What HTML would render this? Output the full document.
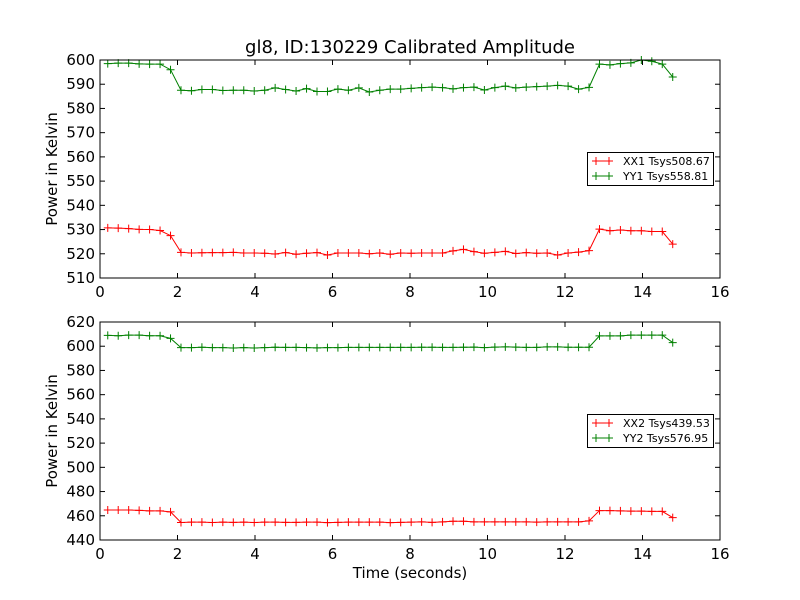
<!DOCTYPE html>
<html><head><meta charset="utf-8"><style>
body{margin:0;background:#fff;}
svg{display:block;font-family:"DejaVu Sans","Liberation Sans",sans-serif;}
</style></head><body>
<svg id="chart" width="800" height="600" xmlns="http://www.w3.org/2000/svg">
<rect width="800" height="600" fill="#fff"/>
<text x="410" y="53" font-size="18" text-anchor="middle">gl8, ID:130229 Calibrated Amplitude</text>
<text x="410" y="578" font-size="15" text-anchor="middle">Time (seconds)</text>
<g id="p1"></g>
<g id="p2"></g>
</svg>
<script>
const times=[0.2,0.47,0.74,1.01,1.28,1.55,1.82,2.09,2.36,2.63,2.9,3.17,3.44,3.71,3.98,4.25,4.52,4.79,5.06,5.33,5.6,5.87,6.14,6.41,6.68,6.95,7.22,7.49,7.76,8.03,8.3,8.57,8.84,9.11,9.38,9.65,9.92,10.19,10.46,10.73,11.0,11.27,11.54,11.81,12.08,12.35,12.62,12.89,13.16,13.43,13.7,13.97,14.24,14.51,14.78];
const xx1=[530.7,530.6,530.4,530.1,530.0,529.6,527.5,520.6,520.3,520.4,520.5,520.5,520.6,520.3,520.3,520.2,519.9,520.5,519.8,520.2,520.5,519.5,520.3,520.3,520.3,520.0,520.3,519.8,520.3,520.2,520.3,520.3,520.3,521.2,521.8,520.9,520.2,520.6,521.0,520.1,520.5,520.2,520.3,519.5,520.3,520.7,521.3,530.2,529.5,529.8,529.5,529.5,529.2,529.2,524.0];
const yy1=[598.5,598.7,598.7,598.4,598.3,598.3,596.0,587.5,587.3,587.8,587.8,587.4,587.5,587.5,587.2,587.5,588.5,587.8,587.2,588.2,587.0,587.0,588.0,587.5,588.5,586.8,587.5,588.0,588.0,588.3,588.6,588.8,588.6,588.1,588.6,588.8,587.6,588.6,589.2,588.5,588.8,589.0,589.2,589.5,589.2,588.0,588.7,598.3,598.0,598.5,598.8,600.0,599.5,598.3,593.0];
const xx2=[464.8,464.8,464.8,464.5,464.0,464.0,463.2,454.5,454.8,454.8,454.5,454.8,454.6,454.8,454.5,454.8,454.8,454.6,454.6,454.8,454.8,454.3,454.6,454.8,454.8,454.8,454.8,454.3,454.6,454.8,455.0,454.6,455.0,455.5,455.5,455.0,455.0,455.0,455.0,455.0,455.0,454.8,455.0,455.0,455.0,455.0,455.8,464.3,464.3,464.0,463.8,463.8,463.6,463.6,458.5];
const yy2=[609.0,608.6,609.2,609.2,608.6,608.6,606.5,598.8,598.8,599.2,598.8,598.8,598.5,598.8,598.5,598.8,599.2,599.0,599.0,598.8,598.6,598.8,598.8,599.0,599.0,599.0,599.0,599.0,599.0,599.0,599.2,599.2,599.0,599.0,599.2,599.3,598.8,599.3,599.5,599.3,599.0,599.0,599.5,599.5,599.2,599.2,599.2,608.5,608.5,608.5,609.2,609.2,609.2,609.2,603.0];
const xTicks=[0,2,4,6,8,10,12,14,16];
const yTicks1=[510,520,530,540,550,560,570,580,590,600];
const yTicks2=[440,460,480,500,520,540,560,580,600,620];
const NS="http://www.w3.org/2000/svg";
function mk(tag,attrs,parent){const e=document.createElementNS(NS,tag);for(const k in attrs)e.setAttribute(k,attrs[k]);parent.appendChild(e);return e;}
function panel(g,top,bot,ymin,ymax,yTicks,series,labels,legTop,tag){
  const L=100,R=720;
  const sx=v=>L+(v-0)/(16-0)*(R-L);
  const sy=v=>bot-(v-ymin)/(ymax-ymin)*(bot-top);
  xTicks.forEach(t=>{
    const x=sx(t);
    const a=mk('line',{x1:x,x2:x,y1:bot,y2:bot-5,stroke:'#000'},g);
    
    
    const b=mk('line',{x1:x,x2:x,y1:top,y2:top+5,stroke:'#000'},g);
    
    
    const tx=mk('text',{x:x,y:bot+19,'font-size':15,'text-anchor':'middle'},g);
    tx.textContent=t;
    
    
  });
  yTicks.forEach(t=>{
    const y=sy(t);
    const a=mk('line',{x1:L,x2:L+5,y1:y,y2:y,stroke:'#000'},g);
    
    
    const b=mk('line',{x1:R,x2:R-5,y1:y,y2:y,stroke:'#000'},g);
    
    
    const tx=mk('text',{x:L-5,y:y+5,'font-size':15,'text-anchor':'end'},g);
    tx.textContent=t;
    
    
  });
  const yt=mk('text',{x:0,y:0,'font-size':15,'text-anchor':'middle',transform:`translate(57,${(top+bot)/2}) rotate(-90)`},g);
  yt.textContent='Power in Kelvin';
  
  
  const colors=['#ff0000','#008000'];
  series.forEach((s,si)=>{
    const pts=times.map((t,i)=>sx(t)+','+sy(s[i])).join(' ');
    const pl=mk('polyline',{points:pts,fill:'none',stroke:colors[si],'stroke-width':1},g);
    
    
    times.forEach((t,i)=>{
      const x=sx(t),y=sy(s[i]);
      const m=mk('path',{d:`M${x-4},${y}H${x+4}M${x},${y-4}V${y+4}`,stroke:colors[si],'stroke-width':1},g);
      
      
    });
  });
  const fr=mk('rect',{x:L,y:top,width:R-L,height:bot-top,fill:'none',stroke:'#000','stroke-width':1},g);
  
  
  const lg=mk('g',{},g);
  
  
  mk('rect',{x:587.5,y:legTop+0.5,width:126,height:33,fill:'#fff',stroke:'#000'},lg);
  labels.forEach((lab,i)=>{
    const y=legTop+9+i*15;
    const e=mk('g',{},lg);
    
    
    mk('path',{d:`M592,${y}H613M596,${y-4}V${y+4}M609,${y-4}V${y+4}`,stroke:colors[i]},e);
    const tx=mk('text',{x:623,y:y+4,'font-size':11},e);
    tx.textContent=lab;
  });
}
panel(document.getElementById('p1'),60,278,510,600,yTicks1,[xx1,yy1],['XX1 Tsys508.67','YY1 Tsys558.81'],152);
panel(document.getElementById('p2'),322,540,440,620,yTicks2,[xx2,yy2],['XX2 Tsys439.53','YY2 Tsys576.95'],414);
</script>
</body></html>
